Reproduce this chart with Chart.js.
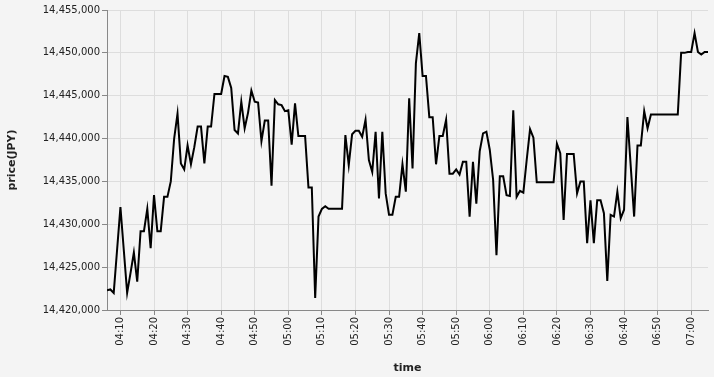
<!DOCTYPE html>
<html>
<head>
<meta charset="utf-8">
<script src="https://cdn.jsdelivr.net/npm/chart.js@4"></script>
<style>
  html, body { margin: 0; padding: 0; background: #f4f4f4; }
  #chart { display: block; }
</style>
</head>
<body>
<canvas id="chart" width="714" height="377"></canvas>
<script>
// one price per minute, starting at startTime
const startTime = '04:06';
const prices = [
    14422300, 14422400, 14422000, 14427000, 14432000, 14427000, 14422000, 14424300, 14426700, 14423300,
    14429200, 14429200, 14431800, 14427200, 14433400, 14429200, 14429200, 14433200, 14433200, 14435000,
    14440000, 14442900, 14437100, 14436400, 14439200, 14437000, 14439000, 14441400, 14441400, 14437100,
    14441400, 14441400, 14445200, 14445200, 14445200, 14447300, 14447200, 14445900, 14441000, 14440600,
    14444300, 14441200, 14443000, 14445600, 14444300, 14444200, 14439700, 14442100, 14442100, 14434500,
    14444500, 14444000, 14443900, 14443200, 14443300, 14439300, 14444100, 14440300, 14440300, 14440300,
    14434300, 14434300, 14421400, 14430900, 14431800, 14432100, 14431800, 14431800, 14431800, 14431800,
    14431800, 14440400, 14436900, 14440500, 14440900, 14440900, 14440200, 14442200, 14437500, 14436100,
    14440800, 14433000, 14440800, 14433600, 14431100, 14431100, 14433200, 14433200, 14437000, 14433800,
    14444700, 14436500, 14448800, 14452300, 14447300, 14447300, 14442500, 14442500, 14437000, 14440300,
    14440300, 14442200, 14435900, 14435900, 14436400, 14435800, 14437300, 14437300, 14430900, 14437300,
    14432400, 14438500, 14440600, 14440800, 14438700, 14435200, 14426400, 14435600, 14435600, 14433400,
    14433300, 14443300, 14433200, 14433900, 14433700, 14437500, 14441100, 14440100, 14434900, 14434900,
    14434900, 14434900, 14434900, 14434900, 14439400, 14438300, 14430500, 14438200, 14438200, 14438200,
    14433600, 14435000, 14435000, 14427800, 14432800, 14427800, 14432800, 14432800, 14431300, 14423400,
    14431100, 14430900, 14433800, 14430700, 14431700, 14442500, 14436700, 14430900, 14439200, 14439200,
    14443200, 14441200, 14442800, 14442800, 14442800, 14442800, 14442800, 14442800, 14442800, 14442800,
    14442800, 14450000, 14450000, 14450100, 14450100, 14452300, 14450100, 14449800, 14450100, 14450100
];
const xTickLabels = ['04:10', '04:20', '04:30', '04:40', '04:50', '05:00', '05:10', '05:20', '05:30',
    '05:40', '05:50', '06:00', '06:10', '06:20', '06:30', '06:40', '06:50', '07:00'];
const yTickValues = [14420000, 14425000, 14430000, 14435000, 14440000, 14445000, 14450000, 14455000];

function toMinutes(hhmm) {
    const parts = hhmm.split(':');
    return Number(parts[0]) * 60 + Number(parts[1]);
}

function toLabel(min) {
    const h = Math.floor(min / 60);
    const m = min % 60;
    return String(h).padStart(2, '0') + ':' + String(m).padStart(2, '0');
}

const start = toMinutes(startTime);
const points = prices.map((p, i) => ({ x: start + i, y: p }));

const font = { family: 'DejaVu Sans', size: 10 };
const titleFont = { family: 'DejaVu Sans', size: 11, weight: 'bold' };

new Chart(document.getElementById('chart'), {
    type: 'line',
    data: {
        datasets: [{
            data: points,
            borderColor: '#000',
            borderWidth: 2,
            pointRadius: 0,
            tension: 0,
            fill: false
        }]
    },
    options: {
        responsive: false,
        animation: false,
        layout: { padding: { top: 10, right: 6, left: 0, bottom: 0 } },
        plugins: { legend: { display: false }, tooltip: { enabled: false } },
        scales: {
            x: {
                type: 'linear',
                min: start,
                max: start + prices.length - 1,
                afterBuildTicks: axis => { axis.ticks = xTickLabels.map(l => ({ value: toMinutes(l) })); },
                afterFit: axis => { axis.height = 67; },
                ticks: {
                    minRotation: 90, maxRotation: 90, autoSkip: false, padding: 2,
                    color: '#222', font: font,
                    callback: v => toLabel(v)
                },
                grid: { color: '#ddd', tickColor: '#888', tickLength: 5 },
                border: { color: '#888' },
                title: { display: true, text: 'time', color: '#222', font: titleFont, padding: { top: 4, bottom: 2 } }
            },
            y: {
                min: 14420000,
                max: 14455000,
                afterBuildTicks: axis => { axis.ticks = yTickValues.map(v => ({ value: v })); },
                afterFit: axis => { axis.width = 107; },
                ticks: {
                    padding: 2, color: '#222', font: font,
                    callback: v => v.toLocaleString('en-US')
                },
                grid: { color: '#ddd', tickColor: '#888', tickLength: 5 },
                border: { color: '#888' },
                title: { display: true, text: 'price(JPY)', color: '#222', font: titleFont, padding: { top: 6, bottom: 4 } }
            }
        }
    }
});
</script>
</body>
</html>
